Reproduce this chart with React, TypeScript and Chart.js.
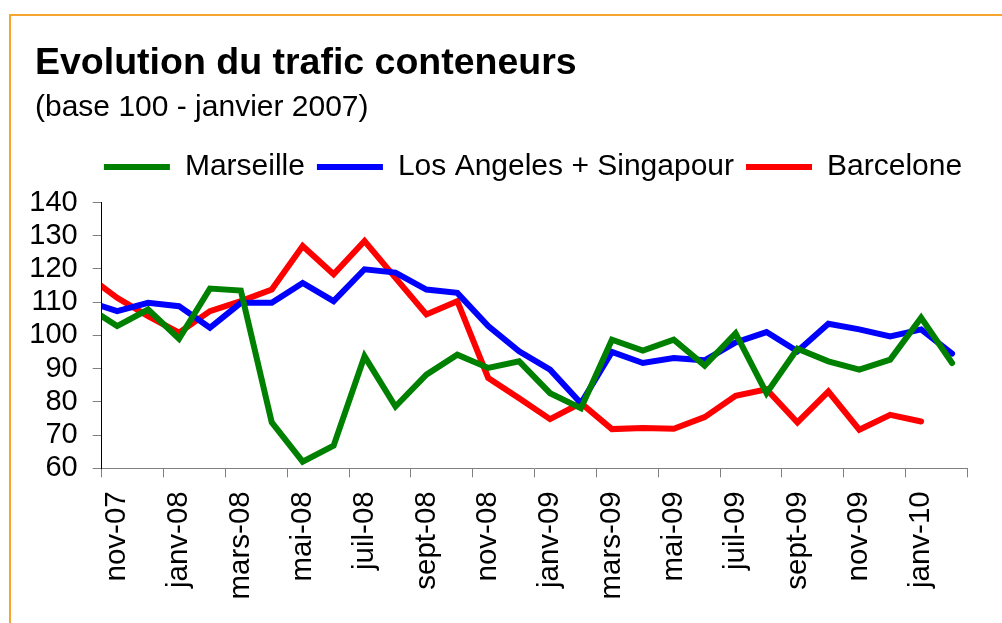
import React, { useEffect, useRef } from 'react';
import { Chart, registerables } from 'chart.js';

Chart.register(...registerables);

// Months (oct-07 is only used for the leading segment, clipped at the axis)
const months = [
  'oct-07', 'nov-07', 'déc-07', 'janv-08', 'févr-08', 'mars-08', 'avr-08', 'mai-08', 'juin-08',
  'juil-08', 'août-08', 'sept-08', 'oct-08', 'nov-08', 'déc-08', 'janv-09', 'févr-09', 'mars-09',
  'avr-09', 'mai-09', 'juin-09', 'juil-09', 'août-09', 'sept-09', 'oct-09', 'nov-09', 'déc-09',
  'janv-10', 'févr-10',
];

const marseille = [
  108.8, 102.8, 107.8, 99.0, 114.1, 113.5, 73.8, 62.0, 66.8, 93.7, 78.6, 88.2, 94.2, 90.2, 92.2,
  82.6, 78.1, 98.7, 95.4, 98.7, 90.9, 100.6, 82.6, 96.0, 92.2, 89.7, 92.7, 105.3, 91.7,
];

const losAngelesSingapour = [
  110.3, 107.3, 109.8, 108.8, 102.3, 109.8, 109.8, 115.8, 110.3, 119.9, 118.9, 113.8, 112.8, 102.8,
  95.2, 89.7, 79.6, 95.0, 91.7, 93.2, 92.5, 97.9, 101.0, 95.2, 103.5, 101.8, 99.7, 101.8, 94.5,
];

const barcelone = [
  118.3, 111.3, 105.8, 100.8, 107.3, 110.3, 113.8, 126.9, 118.4, 128.4, 117.3, 106.3, 110.3, 87.2,
  81.1, 74.8, 79.6, 71.8, 72.1, 71.9, 75.4, 81.8, 83.8, 73.8, 83.1, 71.6, 76.1, 74.1, null,
];

const seriesNames = ['Marseille', 'Los Angeles + Singapour', 'Barcelone'];
const seriesColors = ['#008000', '#0000FF', '#FF0000'];

const yMin = 60;
const yMax = 140;
const yStep = 10;

const titleText = 'Evolution du trafic conteneurs';
const subtitleText = '(base 100 - janvier 2007)';

const FONT = '"Liberation Sans", Arial, sans-serif';

const legendTweak = {
  id: 'legendTweak',
  afterInit(chart: any) {
    const lg = chart.legend;
    if (lg && !lg.__patched) {
      const orig = lg.fit;
      lg.fit = function (this: any) {
        orig.call(this);
        this.height += 10.5;
      };
      lg.__patched = true;
    }
  },
  afterLayout(chart: any) {
    const lg = chart.legend;
    if (lg) {
      lg.left += 32;
      lg.right += 32;
    }
  },
};

export default function App() {
  const canvasRef = useRef<HTMLCanvasElement>(null);

  useEffect(() => {
    const canvas = canvasRef.current;
    if (!canvas) return;
    const series = [marseille, losAngelesSingapour, barcelone];
    const chart = new Chart(canvas, {
      type: 'line',
      data: {
        labels: months,
        datasets: series.map((d, i) => ({
          label: seriesNames[i],
          data: d,
          borderColor: seriesColors[i],
          backgroundColor: seriesColors[i],
          borderWidth: 6,
          pointRadius: 0,
          pointHoverRadius: 0,
          tension: 0,
          borderCapStyle: 'round',
          borderJoinStyle: 'miter',
          clip: { left: 0, right: false, top: false, bottom: false } as any,
        })),
      },
      plugins: [legendTweak],
      options: {
        animation: false,
        responsive: false,
        devicePixelRatio: 1,
        events: [],
        layout: { padding: { left: 31, right: 31, top: 140, bottom: 0 } },
        font: { family: FONT },
        plugins: {
          tooltip: { enabled: false },
          title: { display: false },
          legend: {
            display: true,
            position: 'top',
            align: 'center',
            labels: {
              usePointStyle: true,
              pointStyle: 'line',
              pointStyleWidth: 66,
              boxHeight: 6,
              padding: 12,
              color: '#000',
              font: { size: 30, family: FONT },
            },
          },
        },
        scales: {
          x: {
            type: 'category',
            min: 'nov-07',
            offset: true,
            afterFit: (s: any) => {
              s.height = 154.7;
            },
            grid: {
              offset: true,
              drawOnChartArea: false,
              drawTicks: true,
              tickLength: 9,
              lineWidth: 1,
              color: (ctx: any) =>
                ctx.index === undefined || ctx.index % 2 === 0 ? '#808080' : 'rgba(0,0,0,0)',
            },
            border: { display: true, color: '#808080', width: 1 },
            ticks: {
              autoSkip: false,
              maxRotation: 90,
              minRotation: 90,
              padding: 14,
              color: '#000',
              font: { size: 29.5, family: FONT },
              callback: function (this: any, value: any, index: number) {
                return index % 2 === 0 ? this.getLabelForValue(value) : '';
              },
            },
          },
          y: {
            min: yMin,
            max: yMax,
            afterFit: (s: any) => {
              s.width = 70.7;
            },
            grid: {
              drawOnChartArea: false,
              drawTicks: true,
              tickLength: 9,
              color: '#808080',
            },
            border: { display: true, color: '#000', width: 1 },
            ticks: {
              stepSize: yStep,
              autoSkip: false,
              padding: 15,
              color: '#000',
              font: { size: 29, family: FONT },
            },
          },
        },
      },
    });
    return () => chart.destroy();
  }, []);

  return (
    <div
      style={{
        position: 'fixed',
        left: 0,
        top: 0,
        width: 1002,
        height: 623,
        background: '#fff',
        overflow: 'hidden',
      }}
    >
      <div
        style={{
          position: 'absolute',
          left: 9,
          top: 14,
          width: 1100,
          height: 700,
          borderTop: '2px solid #F6A52E',
          borderLeft: '2px solid #F6A52E',
        }}
      />
      <canvas
        ref={canvasRef}
        width={1002}
        height={623}
        style={{ position: 'absolute', left: 0, top: 0, width: 1002, height: 623 }}
      />
      <div
        style={{
          position: 'absolute',
          left: 35,
          top: 43,
          font: `bold 37.5px ${FONT}`,
          lineHeight: '37.5px',
          whiteSpace: 'nowrap',
          color: '#000',
        }}
      >
        {titleText}
      </div>
      <div
        style={{
          position: 'absolute',
          left: 35,
          top: 91,
          font: `30px ${FONT}`,
          lineHeight: '30px',
          whiteSpace: 'nowrap',
          color: '#000',
        }}
      >
        {subtitleText}
      </div>
    </div>
  );
}
